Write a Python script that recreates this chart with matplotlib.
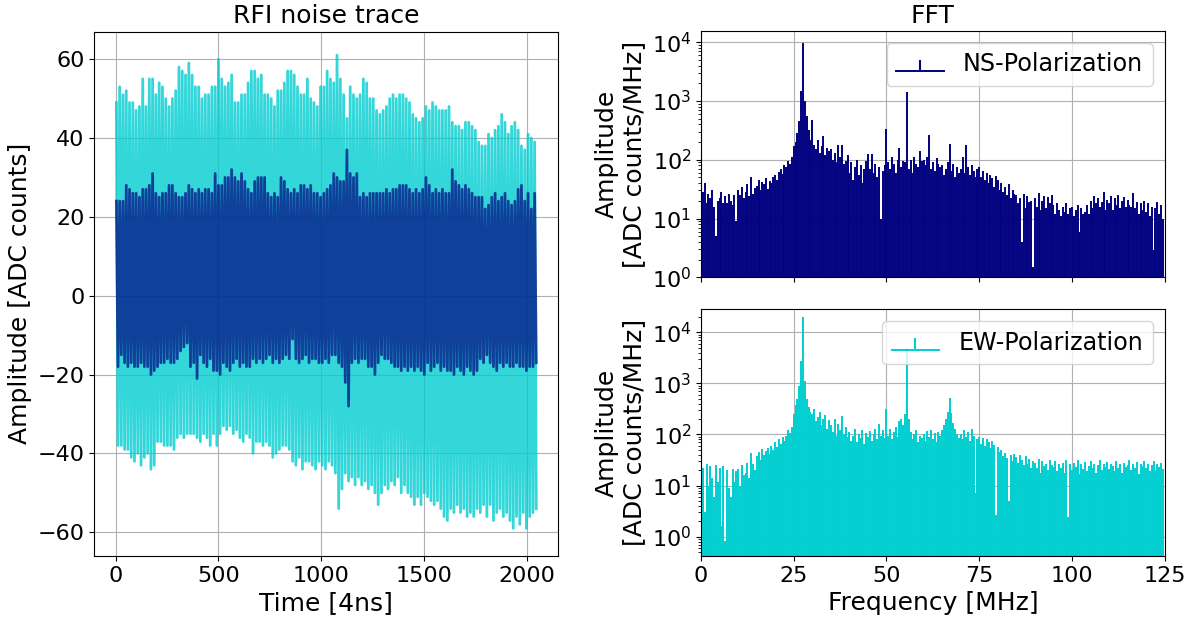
import numpy as np
import matplotlib.pyplot as plt

# raw trace, read per block of 16 samples: highest / lowest value in ADC counts
ew_hi = [49, 53, 51, 52, 49, 49, 47, 48, 55, 48,
         55, 55, 51, 54, 53, 50, 48, 50, 52, 58,
         57, 56, 59, 56, 53, 53, 50, 51, 51, 53,
         53, 60, 55, 53, 54, 56, 49, 49, 51, 51,
         54, 57, 57, 55, 56, 51, 51, 50, 48, 52,
         52, 54, 57, 57, 56, 53, 51, 51, 55, 50,
         49, 48, 53, 53, 57, 55, 54, 61, 55, 51,
         45, 53, 51, 50, 51, 55, 54, 50, 50, 47,
         46, 47, 48, 50, 51, 50, 51, 51, 50, 49,
         46, 45, 44, 45, 48, 47, 49, 48, 47, 47,
         47, 48, 44, 43, 43, 42, 44, 44, 43, 42,
         39, 38, 38, 41, 40, 42, 43, 46, 44, 41,
         43, 44, 42, 38, 37, 41, 40, 39]
ew_lo = [-38, -38, -39, -39, -41, -42, -40, -43, -41, -40,
         -44, -43, -37, -37, -38, -38, -38, -39, -36, -35,
         -36, -35, -35, -35, -36, -37, -35, -36, -38, -35,
         -38, -35, -33, -34, -33, -35, -34, -36, -37, -35,
         -36, -40, -37, -37, -38, -37, -38, -41, -40, -39,
         -38, -38, -39, -42, -43, -41, -44, -42, -42, -43,
         -44, -42, -43, -44, -42, -43, -45, -54, -49, -45,
         -47, -46, -48, -46, -48, -47, -49, -48, -50, -53,
         -50, -48, -49, -47, -48, -46, -50, -48, -50, -51,
         -53, -51, -53, -50, -51, -52, -53, -52, -54, -56,
         -57, -54, -55, -53, -55, -54, -56, -55, -56, -54,
         -55, -53, -56, -53, -57, -55, -54, -56, -55, -57,
         -59, -56, -58, -55, -59, -56, -55, -54]
ns_hi = [24, 24, 24, 28, 27, 26, 26, 25, 27, 27,
         28, 31, 26, 25, 26, 26, 28, 28, 26, 25,
         25, 26, 28, 27, 26, 27, 26, 27, 27, 26,
         31, 28, 28, 30, 30, 32, 30, 29, 31, 29,
         27, 26, 29, 30, 30, 30, 26, 25, 26, 25,
         30, 29, 27, 26, 27, 26, 28, 28, 27, 28,
         26, 26, 25, 26, 27, 28, 31, 30, 29, 29,
         37, 31, 30, 31, 25, 26, 25, 26, 26, 26,
         26, 26, 27, 26, 27, 27, 28, 28, 28, 27,
         26, 27, 26, 27, 30, 28, 26, 27, 26, 27,
         26, 26, 32, 29, 28, 27, 28, 27, 26, 25,
         25, 25, 22, 23, 25, 26, 24, 25, 26, 24,
         23, 24, 27, 28, 24, 26, 22, 26]
ns_lo = [-18, -15, -17, -18, -17, -18, -18, -17, -18, -18,
         -20, -19, -18, -17, -17, -16, -17, -17, -16, -14,
         -13, -12, -18, -17, -21, -15, -17, -18, -16, -19,
         -19, -20, -17, -18, -19, -17, -16, -18, -17, -18,
         -18, -16, -17, -16, -17, -16, -15, -17, -16, -17,
         -16, -15, -16, -11, -16, -17, -16, -15, -17, -16,
         -16, -17, -17, -16, -17, -15, -15, -17, -18, -22,
         -28, -17, -16, -17, -16, -16, -18, -18, -20, -17,
         -15, -16, -16, -17, -18, -18, -19, -18, -19, -18,
         -19, -18, -19, -20, -17, -19, -18, -17, -19, -18,
         -19, -19, -20, -18, -19, -20, -18, -19, -20, -19,
         -16, -17, -15, -17, -18, -19, -17, -18, -17, -18,
         -18, -17, -18, -18, -19, -18, -18, -17]

# FFT amplitude [ADC counts/MHz], one value every 0.5 MHz from 0 to 124.5 MHz
ns_fft = [3400, 28, 40, 18, 26, 22, 30, 16, 5, 20,
          22, 28, 18, 24, 18, 26, 20, 17, 25, 9,
          30, 25, 35, 22, 28, 38, 24, 50, 26, 33,
          36, 45, 30, 42, 38, 48, 32, 44, 40, 50,
          55, 45, 62, 70, 58, 80, 75, 95, 85, 110,
          170, 200, 280, 450, 1500, 9600, 1000, 550, 320, 220,
          470, 180, 150, 220, 130, 170, 250, 120, 160, 140,
          150, 100, 130, 90, 175, 110, 175, 85, 95, 120,
          60, 90, 45, 75, 100, 55, 80, 40, 70, 95,
          125, 70, 125, 60, 85, 50, 75, 10, 65, 80,
          330, 90, 70, 110, 85, 60, 100, 160, 75, 95,
          90, 1400, 70, 100, 60, 110, 85, 75, 140, 95,
          100, 80, 110, 263, 70, 90, 65, 105, 85, 75,
          80, 55, 70, 90, 185, 65, 85, 50, 75, 60,
          70, 110, 60, 180, 75, 55, 80, 65, 50, 70,
          75, 50, 65, 45, 60, 40, 55, 48, 35, 52,
          45, 30, 40, 28, 35, 25, 38, 22, 30, 26,
          25, 18, 22, 4, 26, 15, 24, 19, 20, 1.5,
          22, 16, 27, 14, 20, 24, 15, 23, 18, 25,
          17, 12, 18, 14, 11, 16, 13, 18, 12, 15,
          16, 11, 14, 17, 6, 15, 12, 13, 17, 12,
          20, 15, 24, 18, 22, 16, 19, 28, 14, 21,
          18, 24, 14, 22, 17, 25, 15, 20, 23, 16,
          21, 17, 16, 27, 15, 19, 12, 18, 14, 20,
          13, 18, 11, 16, 2.9, 15, 19, 12, 17, 10]
ew_fft = [2300, 22, 3, 26, 10, 24, 14, 6, 25, 12,
          22, 1.6, 24, 0.84, 20, 9, 6, 21, 12, 19,
          21, 10, 25, 16, 18, 28, 14, 44, 26, 20,
          38, 45, 32, 52, 40, 48, 55, 42, 60, 50,
          70, 58, 80, 65, 90, 75, 93, 120, 105, 140,
          250, 380, 500, 900, 2700, 20000, 1100, 500, 350, 280,
          250, 310, 180, 220, 270, 150, 200, 240, 130, 190,
          150, 110, 200, 95, 160, 120, 230, 100, 140, 90,
          110, 75, 95, 125, 70, 100, 85, 120, 65, 105,
          90, 115, 75, 100, 130, 80, 160, 95, 120, 85,
          310, 95, 130, 80, 110, 140, 90, 180, 200, 150,
          250, 5000, 200, 110, 80, 100, 120, 70, 95, 85,
          100, 75, 115, 90, 120, 80, 105, 70, 110, 95,
          120, 150, 200, 270, 520, 260, 170, 130, 100, 85,
          100, 80, 120, 90, 110, 75, 125, 95, 7, 80,
          90, 65, 85, 60, 80, 70, 55, 75, 62, 2.6,
          58, 45, 50, 38, 44, 35, 5, 40, 30, 42,
          36, 28, 40, 32, 25, 38, 27, 33, 22, 30,
          28, 22, 33, 18, 30, 24, 27, 20, 31, 25,
          23, 30, 19, 27, 22, 28, 18, 32, 2.4, 26,
          20, 28, 23, 31, 17, 26, 21, 29, 19, 24,
          30, 22, 27, 18, 25, 32, 20, 26, 23, 29,
          21, 27, 24, 19, 30, 22, 26, 18, 28, 23,
          25, 31, 20, 27, 22, 29, 17, 26, 24, 30,
          22, 27, 19, 25, 30, 20, 26, 23, 28, 21]

block = 16
t0 = np.arange(0, 2048, block)
t = np.column_stack((t0 + 4, t0 + 12)).ravel()
freq = np.arange(0, 125, 0.5)


def zigzag(hi, lo):
    return np.column_stack((hi, lo)).ravel()


def stem_plot(ax, amp, color, label):
    st = ax.stem(freq, amp, linefmt='-', markerfmt=' ', basefmt='-',
                 bottom=0.01, label=label)
    plt.setp(st.stemlines, color=color, linewidth=1.4)
    plt.setp(st.baseline, color=color, linewidth=1.4)
    ax.set_yscale('log')
    ax.set_xlim(0, 125)
    ax.set_ylabel('Amplitude\n[ADC counts/MHz]', fontsize=18)
    ax.grid(True)
    ax.tick_params(labelsize=16)
    ax.legend(loc='upper right', fontsize=17.2)


fig = plt.figure(figsize=(11.93, 6.17), dpi=100)
ax1 = fig.add_axes([0.0792, 0.0989, 0.3885, 0.850])
ax2 = fig.add_axes([0.5876, 0.5506, 0.3887, 0.3992])
ax3 = fig.add_axes([0.5876, 0.0989, 0.3887, 0.3998], sharex=ax2)

ax1.plot(t, zigzag(ew_hi, ew_lo), color='darkturquoise', alpha=0.8, lw=2.0)
ax1.plot(t, zigzag(ns_hi, ns_lo), color='navy', alpha=0.7, lw=2.0)
ax1.set_xlim(-102.35, 2149.35)
ax1.set_ylim(-66, 67)
ax1.set_title('RFI noise trace', fontsize=18)
ax1.set_xlabel('Time [4ns]', fontsize=18)
ax1.set_ylabel('Amplitude [ADC counts]', fontsize=18)
ax1.grid(True)
ax1.tick_params(labelsize=16)

stem_plot(ax2, ns_fft, 'navy', 'NS-Polarization')
ax2.set_ylim(1, 1.55e4)
ax2.set_title('FFT', fontsize=18)
plt.setp(ax2.get_xticklabels(), visible=False)

stem_plot(ax3, ew_fft, 'darkturquoise', 'EW-Polarization')
ax3.set_ylim(0.42, 2.8e4)
ax3.set_xticks([0, 25, 50, 75, 100, 125])
ax3.set_xlabel('Frequency [MHz]', fontsize=18)

plt.savefig('out.png', dpi=100)
